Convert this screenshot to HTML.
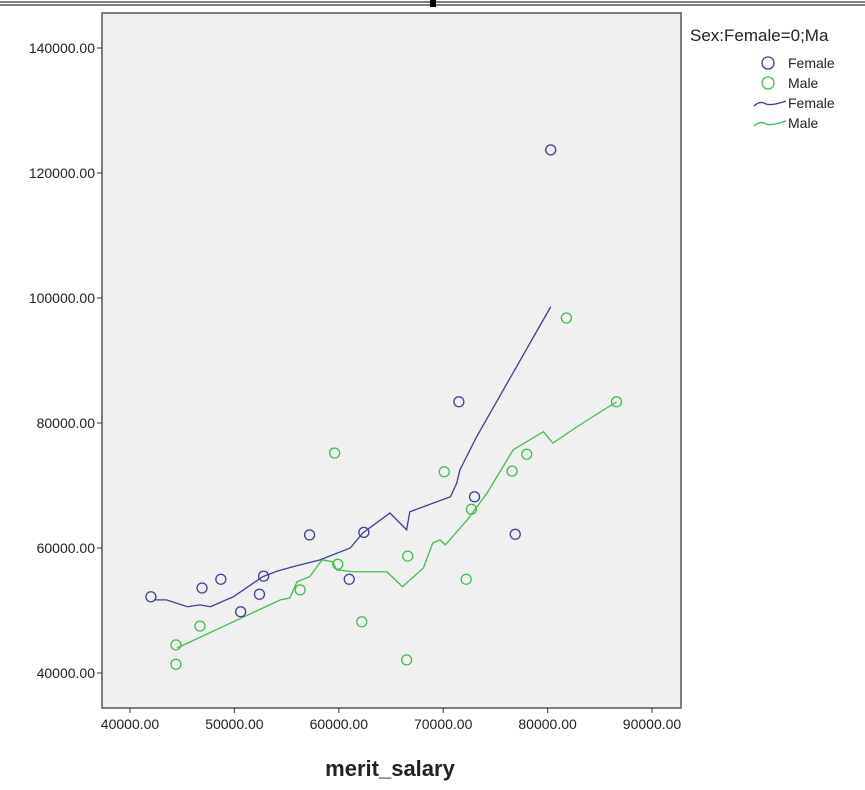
<!DOCTYPE html>
<html><head><meta charset="utf-8"><style>
body{margin:0;background:#fff;font-family:"Liberation Sans",sans-serif}
svg{display:block}
</style></head><body>
<svg id="chart" width="865" height="790">
<line x1="0" y1="2" x2="865" y2="2" stroke="#000" stroke-width="1"/>
<line x1="0" y1="5" x2="865" y2="5" stroke="#000" stroke-width="1"/>
<rect x="430" y="0" width="6" height="7" fill="#000"/>
<rect x="102" y="13" width="579" height="695" fill="#f0f0f0" stroke="#555" stroke-width="1.5"/>
<g id="axes"></g>
<g id="marks"></g>
<text x="390" y="776" text-anchor="middle" font-size="22" font-weight="bold" fill="#222">merit_salary</text>
<g font-size="14" fill="#222">
<text x="690" y="41" font-size="17">Sex:Female=0;Ma</text>
<circle cx="768" cy="63" r="6" fill="none" stroke="#3a3f8f" stroke-width="1.3"/>
<text x="788" y="68">Female</text>
<circle cx="768" cy="83" r="6" fill="none" stroke="#3cbf4a" stroke-width="1.3"/>
<text x="788" y="88">Male</text>
<path d="M754 106 Q760 100 766 104 Q772 106 786 101" fill="none" stroke="#3a3f8f" stroke-width="1.3"/>
<text x="788" y="108">Female</text>
<path d="M754 126 Q760 120 766 124 Q772 126 786 121" fill="none" stroke="#3cbf4a" stroke-width="1.3"/>
<text x="788" y="128">Male</text>
</g>
</svg>
<script>
const xTicks=[40000,50000,60000,70000,80000,90000];
const yTicks=[40000,60000,80000,100000,120000,140000];
const femaleX=[42000,46900,48700,50600,52400,52800,57200,61000,62400,71500,73000,76900,80300];
const femaleY=[52200,53600,55000,49800,52600,55500,62100,55000,62500,83400,68200,62200,123700];
const maleX=[44400,44400,46700,56300,59600,59900,62200,66600,66500,70100,72200,72700,76600,78000,81800,86600];
const maleY=[44500,41400,47500,53300,75200,57400,48200,58700,42100,72200,55000,66200,72300,75000,96800,83400];
const femaleLineX=[42400,43500,45500,46700,47700,49900,52700,54100,55600,58200,61100,62300,64900,66500,66800,70700,71300,71600,73200,80300];
const femaleLineY=[51700,51700,50600,50900,50600,52200,55400,56300,57000,58100,60000,62400,65600,62900,65800,68200,70400,72500,77800,98600];
const maleLineX=[44500,54400,55300,56000,57200,58400,59400,59800,61400,64600,66100,68100,69000,69700,70200,72300,74200,76700,79600,80500,83100,86600];
const maleLineY=[44000,51700,52000,54600,55400,58100,57800,56500,56200,56200,53800,56800,60800,61300,60500,64500,68800,75700,78600,76800,79700,83400];
const NS="http://www.w3.org/2000/svg";
function xs(v){return 130+(v-40000)/10000*104.4;}
function ys(v){return 673-(v-40000)/20000*125;}
const axes=document.getElementById('axes'),marks=document.getElementById('marks');
function mk(t,a,p){const e=document.createElementNS(NS,t);for(const k in a)e.setAttribute(k,a[k]);p.appendChild(e);return e;}
xTicks.forEach(v=>{
 mk('line',{x1:xs(v),x2:xs(v),y1:708,y2:713,stroke:'#333'},axes);
 const t=mk('text',{x:xs(v),y:729,'text-anchor':'middle','font-size':'14',fill:'#222'},axes);
 t.textContent=v.toFixed(2);
 
 
});
yTicks.forEach(v=>{
 mk('line',{x1:97,x2:102,y1:ys(v),y2:ys(v),stroke:'#333'},axes);
 const t=mk('text',{x:95,y:ys(v)+5,'text-anchor':'end','font-size':'14',fill:'#222'},axes);
 t.textContent=v.toFixed(2);
 
 
});
function line(X,Y,c,name){
 const p=mk('polyline',{points:X.map((x,i)=>xs(x)+','+ys(Y[i])).join(' '),fill:'none',stroke:c,'stroke-width':'1.3'},marks);
 
 
}
function pts(X,Y,c,name){
 X.forEach((x,i)=>{
  const e=mk('circle',{cx:xs(x),cy:ys(Y[i]),r:5,fill:'none',stroke:c,'stroke-width':'1.3'},marks);
  
  
 });
}
line(femaleLineX,femaleLineY,'#3a3f8f','female-loess-line');
line(maleLineX,maleLineY,'#3cbf4a','male-loess-line');
pts(femaleX,femaleY,'#3a3f8f','female-point');
pts(maleX,maleY,'#3cbf4a','male-point');
</script>
</body></html>
